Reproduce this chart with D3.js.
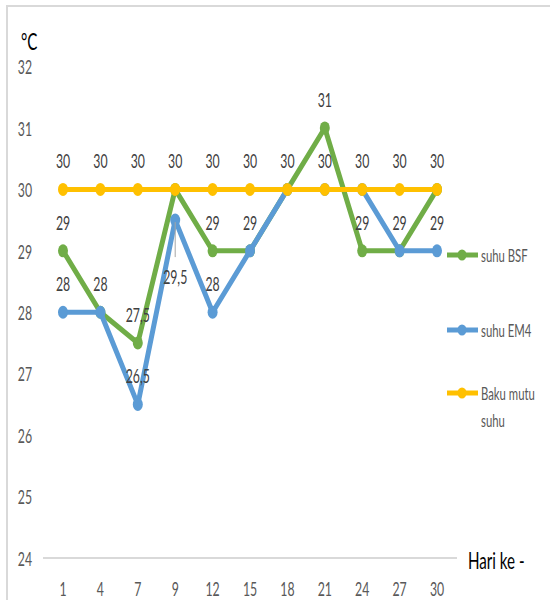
<!DOCTYPE html>
<html>
<head>
<meta charset="utf-8">
<script src="https://cdn.jsdelivr.net/npm/d3@7"></script>
<style>
  html, body { margin: 0; padding: 0; background: #fff; }
  svg { display: block; }
</style>
</head>
<body>
<svg id="chart" width="550" height="600"></svg>
<script>
// Temperature readings per observation day
const days = ["1", "4", "7", "9", "12", "15", "18", "21", "24", "27", "30"];
const suhuBSF = [29, 28, 27.5, 30, 29, 29, 30, 31, 29, 29, 30];
const suhuEM4 = [28, 28, 26.5, 29.5, 28, 29, 30, 30, 30, 29, 29];
const bakuMutu = [30, 30, 30, 30, 30, 30, 30, 30, 30, 30, 30];
const yTicks = [24, 25, 26, 27, 28, 29, 30, 31, 32];
const seriesNames = ["suhu BSF", "suhu EM4", "Baku mutu suhu"];
const seriesColors = ["#70AD47", "#5B9BD5", "#FFC000"];

const svg = d3.select("#chart");
const FONT = "Lato, 'Open Sans', sans-serif";
const SX = 0.63; // narrow glyph width

function label(g, x, y, str, opts = {}) {
  return g.append("text")
    .attr("transform", `translate(${x},${y}) scale(${SX},1)`)
    .attr("text-anchor", opts.anchor || "middle")
    .attr("dominant-baseline", "central")
    .attr("font-family", FONT)
    .attr("font-size", opts.size || 19.5)
    .attr("fill", opts.color || "#404040")
    .text(str);
}

// chart frame
svg.append("path")
  .attr("d", "M7,600 V6 H550")
  .attr("fill", "none")
  .attr("stroke", "#d9d9d9")
  .attr("stroke-width", 2);

const x = d3.scalePoint().domain(days).range([63, 437]);
const y = d3.scaleLinear().domain([24, 32]).range([558, 66.5]);

// y tick labels
const gAxis = svg.append("g");
yTicks.forEach(t => label(gAxis, 32, y(t), String(t), { anchor: "end", color: "#595959" }));

// baseline at the minimum
svg.append("line")
  .attr("x1", 43).attr("x2", 457)
  .attr("y1", y(24)).attr("y2", y(24))
  .attr("stroke", "#d9d9d9").attr("stroke-width", 2);

// x tick labels
days.forEach(d => label(gAxis, x(d), 588, d, { color: "#595959" }));

// axis titles
label(svg, 21, 40, "°C", { anchor: "start", size: 24, color: "#000" });
label(svg, 468, 559, "Hari ke -", { anchor: "start", size: 24, color: "#000" });

const allSeries = [suhuBSF, suhuEM4, bakuMutu];
const line = d3.line().x((d, i) => x(days[i])).y(d => y(d));

allSeries.forEach((vals, s) => {
  const g = svg.append("g");
  g.append("path")
    .attr("d", line(vals))
    .attr("fill", "none")
    .attr("stroke", seriesColors[s])
    .attr("stroke-width", 5)
    .attr("stroke-linejoin", "round");
  g.selectAll("ellipse").data(vals).join("ellipse")
    .attr("cx", (d, i) => x(days[i]))
    .attr("cy", d => y(d))
    .attr("rx", 5).attr("ry", 6.5)
    .attr("fill", seriesColors[s]);
});

// data labels; coincident labels are drawn once, one label sits below its point
const fmt = v => String(v).replace(".", ",");
const gLab = svg.append("g");
const seen = new Set();
allSeries.forEach((vals, s) => {
  vals.forEach((v, i) => {
    const px = x(days[i]), py = y(v);
    if (s === 1 && days[i] === "9") {
      gLab.append("line")
        .attr("x1", px).attr("x2", px)
        .attr("y1", py + 2).attr("y2", py + 37)
        .attr("stroke", "#a6a6a6").attr("stroke-width", 1);
      label(gLab, px, py + 56, fmt(v));
      return;
    }
    const key = days[i] + "|" + v;
    if (seen.has(key)) return;
    seen.add(key);
    label(gLab, px, py - 29, fmt(v));
  });
});

// legend
const legendY = [255, 330, 393];
const gLeg = svg.append("g");
seriesNames.forEach((name, s) => {
  const ly = legendY[s];
  gLeg.append("line")
    .attr("x1", 447).attr("x2", 478)
    .attr("y1", ly).attr("y2", ly)
    .attr("stroke", seriesColors[s]).attr("stroke-width", 5);
  gLeg.append("ellipse")
    .attr("cx", 462).attr("cy", ly).attr("rx", 4.5).attr("ry", 5.5)
    .attr("fill", seriesColors[s]);
  if (s === 2) {
    label(gLeg, 481, ly, "Baku mutu", { anchor: "start", size: 18, color: "#595959" });
    label(gLeg, 481, ly + 27, "suhu", { anchor: "start", size: 18, color: "#595959" });
  } else {
    label(gLeg, 481, ly, name, { anchor: "start", size: 18, color: "#595959" });
  }
});
</script>
</body>
</html>
